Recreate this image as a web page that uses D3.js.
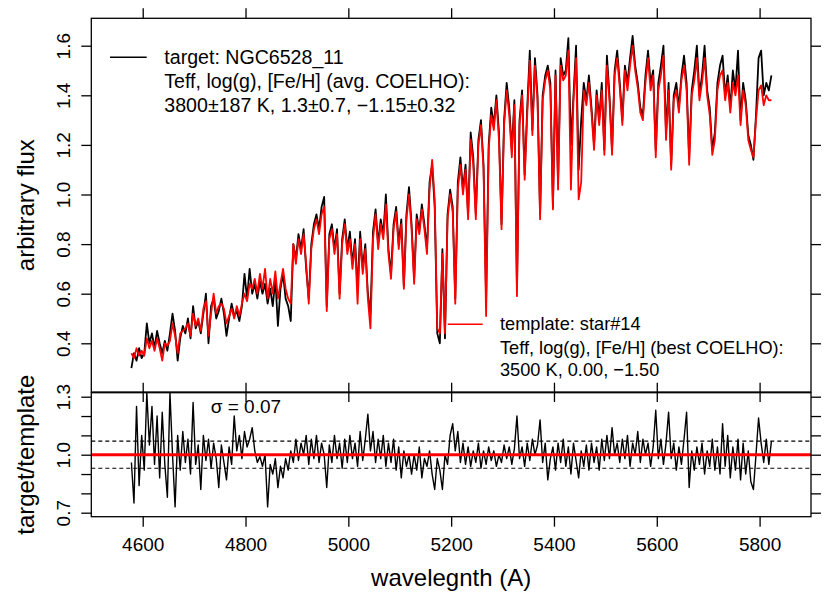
<!DOCTYPE html>
<html>
<head>
<meta charset="utf-8">
<script src="https://cdn.jsdelivr.net/npm/d3@7"></script>
<style>
  body { margin: 0; background: #fff; }
  svg { display: block; font-family: "Liberation Sans", Arial, sans-serif; }
</style>
</head>
<body>
<div id="chart"></div>
<script>
// spectra are sampled every 5 A, starting at 4578 A
const waveStart = 4578;
const waveStep = 5;

const targetFlux = [
  0.30, 0.36, 0.33, 0.38, 0.34, 0.36, 0.48, 0.40, 0.44, 0.38,
  0.45, 0.40, 0.36, 0.41, 0.37, 0.44, 0.52, 0.45, 0.33, 0.42,
  0.47, 0.44, 0.50, 0.42, 0.55, 0.46, 0.49, 0.44, 0.52, 0.60,
  0.40, 0.55, 0.58, 0.50, 0.53, 0.58, 0.52, 0.43, 0.50, 0.56,
  0.51, 0.53, 0.49, 0.55, 0.68, 0.58, 0.70, 0.60, 0.64, 0.58,
  0.65, 0.60, 0.64, 0.56, 0.62, 0.55, 0.66, 0.47, 0.62, 0.68,
  0.58, 0.55, 0.49, 0.80, 0.74, 0.84, 0.78, 0.86, 0.70, 0.58,
  0.80, 0.88, 0.92, 0.86, 0.95, 0.99, 0.55, 0.84, 0.88, 0.78,
  0.86, 0.60, 0.82, 0.90, 0.78, 0.85, 0.72, 0.82, 0.62, 0.85,
  0.70, 0.80, 0.60, 0.52, 0.85, 0.94, 0.80, 0.90, 0.84, 1.00,
  0.78, 0.68, 0.88, 0.95, 0.80, 0.90, 0.63, 0.92, 1.03, 0.88,
  0.66, 0.92, 0.85, 0.96, 0.88, 0.78, 1.05, 1.12, 0.95, 0.44,
  0.40, 0.78, 0.42, 0.92, 1.02, 0.95, 0.58, 1.05, 1.15, 1.02,
  1.12, 0.92, 1.25, 1.15, 0.92, 1.22, 1.30, 1.12, 0.58, 1.20,
  1.35, 1.28, 1.40, 1.25, 0.88, 1.30, 1.45, 1.35, 1.18, 1.38,
  0.62, 1.30, 1.42, 1.08, 1.35, 1.58, 1.26, 1.55, 1.40, 0.92,
  1.40, 1.48, 1.52, 1.45, 0.95, 1.50, 1.05, 1.55, 1.48, 1.50,
  1.63, 1.20, 1.40, 1.60, 1.10, 1.30, 1.45, 1.38, 1.48, 1.35,
  1.20, 1.42, 1.30, 1.45, 1.18, 1.56, 1.40, 1.18, 1.50, 1.58,
  1.45, 1.30, 1.52, 1.45, 1.55, 1.64, 1.52, 1.45, 1.35, 1.32,
  1.48, 1.58, 1.45, 1.50, 1.18, 1.45, 1.52, 1.60, 1.25, 1.45,
  1.12, 1.40, 1.45, 1.35, 1.48, 1.56, 1.45, 1.15, 1.42, 1.50,
  1.60, 1.40, 1.48, 1.60, 1.42, 1.35, 1.18, 1.25, 1.45, 1.52,
  1.56, 1.40, 1.48, 1.35, 1.50, 1.42, 1.58, 1.30, 1.45, 1.38,
  1.24, 1.20, 1.14, 1.32, 1.55, 1.58, 1.40, 1.45, 1.42, 1.48
];

const templateFlux = [
  0.36, 0.34, 0.38, 0.35, 0.37, 0.35, 0.42, 0.38, 0.41, 0.37,
  0.42, 0.38, 0.33, 0.40, 0.39, 0.41, 0.48, 0.43, 0.36, 0.44,
  0.45, 0.46, 0.48, 0.43, 0.52, 0.47, 0.50, 0.45, 0.54, 0.57,
  0.43, 0.52, 0.60, 0.52, 0.55, 0.56, 0.54, 0.48, 0.51, 0.54,
  0.50, 0.55, 0.51, 0.56, 0.60, 0.57, 0.64, 0.62, 0.66, 0.60,
  0.68, 0.62, 0.70, 0.58, 0.66, 0.60, 0.69, 0.58, 0.64, 0.70,
  0.62, 0.58, 0.56, 0.80, 0.72, 0.82, 0.76, 0.84, 0.72, 0.56,
  0.78, 0.86, 0.90, 0.84, 0.92, 0.95, 0.53, 0.82, 0.86, 0.76,
  0.84, 0.58, 0.80, 0.88, 0.76, 0.82, 0.70, 0.80, 0.56, 0.82,
  0.68, 0.78, 0.58, 0.46, 0.82, 0.92, 0.78, 0.88, 0.82, 0.96,
  0.76, 0.66, 0.86, 0.93, 0.78, 0.88, 0.62, 0.90, 1.00, 0.86,
  0.64, 0.90, 0.84, 0.94, 0.86, 0.76, 1.02, 1.14, 0.98, 0.46,
  0.44, 0.76, 0.44, 0.90, 1.00, 0.93, 0.56, 1.02, 1.12, 1.00,
  1.10, 0.90, 1.22, 1.12, 0.90, 1.20, 1.28, 1.10, 0.51, 1.18,
  1.32, 1.26, 1.38, 1.22, 0.86, 1.28, 1.42, 1.32, 1.15, 1.36,
  0.59, 1.28, 1.40, 1.06, 1.32, 1.54, 1.24, 1.52, 1.38, 0.90,
  1.38, 1.46, 1.50, 1.42, 0.94, 1.48, 1.02, 1.52, 1.46, 1.48,
  1.58, 1.02, 1.38, 1.55, 0.98, 1.05, 1.42, 1.36, 1.45, 1.33,
  1.18, 1.40, 1.28, 1.42, 1.16, 1.52, 1.38, 1.16, 1.48, 1.55,
  1.43, 1.28, 1.50, 1.42, 1.52, 1.60, 1.50, 1.43, 1.33, 1.30,
  1.45, 1.55, 1.42, 1.48, 1.15, 1.42, 1.48, 1.56, 1.22, 1.42,
  1.10, 1.38, 1.42, 1.33, 1.46, 1.52, 1.42, 1.12, 1.40, 1.46,
  1.55, 1.38, 1.45, 1.55, 1.40, 1.32, 1.16, 1.22, 1.42, 1.48,
  1.50, 1.38, 1.45, 1.33, 1.45, 1.40, 1.48, 1.28, 1.42, 1.36,
  1.22, 1.18, 1.15, 1.30, 1.42, 1.44, 1.36, 1.40, 1.38, 1.38
];

// target/template
const ratio = [
  0.96, 0.75, 1.25, 0.84, 1.10, 0.92, 1.32, 1.05, 1.25, 0.95,
  1.20, 0.88, 1.22, 0.95, 0.78, 1.32, 1.00, 0.73, 1.10, 0.92,
  1.12, 0.96, 1.08, 0.90, 1.27, 0.95, 1.05, 0.82, 1.10, 0.97,
  1.08, 0.93, 1.06, 0.98, 0.83, 1.05, 0.96, 0.87, 1.04, 0.95,
  1.20, 1.02, 1.10, 0.98, 1.12, 1.04, 1.08, 1.14, 1.02, 0.96,
  0.99, 0.94, 1.00, 0.73, 0.95, 0.90, 0.98, 0.83, 0.94, 0.88,
  0.98, 0.92, 1.02, 0.96, 1.08, 0.97, 1.06, 1.00, 1.10, 0.95,
  1.08, 0.98, 1.10, 0.96, 1.06, 1.00, 0.83, 1.05, 0.96, 1.10,
  0.98, 1.06, 0.93, 1.08, 0.96, 1.10, 0.98, 1.06, 0.94, 1.12,
  0.97, 1.08, 1.21, 1.02, 1.12, 0.96, 1.08, 0.98, 1.10, 0.94,
  1.06, 0.96, 1.08, 0.92, 1.04, 0.88, 1.02, 0.94, 1.00, 0.90,
  1.00, 0.92, 1.04, 0.88, 0.98, 0.94, 1.02, 0.90, 0.82, 0.98,
  0.92, 0.82, 1.00, 0.95, 1.10, 1.16, 1.02, 1.12, 0.96, 1.06,
  0.95, 1.04, 0.94, 1.02, 0.96, 1.06, 0.93, 1.02, 0.95, 1.04,
  0.97, 1.02, 0.94, 1.00, 0.96, 1.05, 0.98, 1.04, 0.95, 1.03,
  1.20, 0.98, 1.04, 0.94, 1.06, 0.97, 1.08, 1.00, 1.05, 1.18,
  0.96, 1.06, 0.87, 0.98, 1.04, 0.92, 1.06, 0.96, 1.08, 0.94,
  1.04, 0.90, 1.06, 0.97, 0.88, 1.02, 0.94, 1.05, 0.92, 1.06,
  0.96, 1.04, 0.92, 1.08, 0.97, 1.10, 0.98, 1.14, 1.00, 1.06,
  0.96, 1.08, 0.98, 1.10, 0.94, 1.06, 1.00, 1.12, 0.96, 1.08,
  1.00, 1.06, 0.94, 1.04, 1.23, 0.98, 1.08, 0.95, 1.06, 1.22,
  0.98, 1.06, 0.92, 1.04, 0.95, 1.08, 1.22, 0.83, 1.02, 0.92,
  1.04, 0.95, 1.06, 0.90, 1.02, 0.94, 1.08, 0.92, 1.04, 0.90,
  1.16, 0.94, 1.10, 0.88, 1.04, 0.92, 1.08, 0.87, 1.06, 0.90,
  1.02, 0.86, 0.82, 1.00, 1.19, 1.06, 0.96, 1.08, 0.95, 1.07
];

const waveTicks = [4600, 4800, 5000, 5200, 5400, 5600, 5800];
const fluxTicks = [0.4, 0.6, 0.8, 1.0, 1.2, 1.4, 1.6];
const ratioTicks = [0.7, 0.8, 0.9, 1.0, 1.1, 1.2, 1.3];
const ratioLabels = [0.7, 1.0, 1.3];
const sigma = 0.07;

const targetLegend = ["target: NGC6528_11", "Teff, log(g), [Fe/H] (avg. COELHO):", "3800\u00b1187 K, 1.3\u00b10.7, \u22121.15\u00b10.32"];
const templateLegend = ["template: star#14", "Teff, log(g), [Fe/H] (best COELHO):", "3500 K, 0.00, \u22121.50"];

const width = 830;
const height = 609;
const left = 91.3, right = 811;
const topPanel = { top: 18.3, bottom: 392 };
const lowPanel = { top: 392.7, bottom: 516.7 };

const spectrum = targetFlux.map((f, i) => ({
  wave: waveStart + i * waveStep,
  target: f,
  template: templateFlux[i],
  ratio: ratio[i],
}));

const svg = d3.select("#chart")
  .append("svg")
  .attr("width", width)
  .attr("height", height);

const xScale = d3.scaleLinear().domain([4500, 5900]).range([left, right]);
const yFlux = d3.scaleLinear().domain([0.2036, 1.7105]).range([topPanel.bottom, topPanel.top]);
const yRatio = d3.scaleLinear().domain([0.6793, 1.3207]).range([lowPanel.bottom, lowPanel.top]);

// clip paths so lines stay inside the boxes
const defs = svg.append("defs");
defs.append("clipPath").attr("id", "clip-top")
  .append("rect").attr("x", left).attr("y", topPanel.top)
  .attr("width", right - left).attr("height", topPanel.bottom - topPanel.top);
defs.append("clipPath").attr("id", "clip-low")
  .append("rect").attr("x", left).attr("y", lowPanel.top)
  .attr("width", right - left).attr("height", lowPanel.bottom - lowPanel.top);

// ---- top panel: spectra
const fluxG = svg.append("g").attr("clip-path", "url(#clip-top)");

const targetLine = d3.line().x(d => xScale(d.wave)).y(d => yFlux(d.target));
const templateLine = d3.line().x(d => xScale(d.wave)).y(d => yFlux(d.template));

fluxG.append("path")
  .datum(spectrum)
  .attr("d", targetLine)
  .attr("fill", "none")
  .attr("stroke", "#000")
  .attr("stroke-width", 1.8)
  .attr("stroke-linejoin", "round");

fluxG.append("path")
  .datum(spectrum)
  .attr("d", templateLine)
  .attr("fill", "none")
  .attr("stroke", "#ff0000")
  .attr("stroke-width", 1.8)
  .attr("stroke-linejoin", "round");

// ---- lower panel: ratio
const ratioG = svg.append("g").attr("clip-path", "url(#clip-low)");

[1 + sigma, 1 - sigma].forEach(v => {
  ratioG.append("line")
    .attr("x1", left).attr("x2", right)
    .attr("y1", yRatio(v)).attr("y2", yRatio(v))
    .attr("stroke", "#000")
    .attr("stroke-width", 1.2)
    .attr("stroke-dasharray", "4,3");
});

ratioG.append("path")
  .datum(spectrum)
  .attr("d", d3.line().x(d => xScale(d.wave)).y(d => yRatio(d.ratio)))
  .attr("fill", "none")
  .attr("stroke", "#000")
  .attr("stroke-width", 1.4)
  .attr("stroke-linejoin", "round");

ratioG.append("line")
  .attr("x1", left).attr("x2", right)
  .attr("y1", yRatio(1)).attr("y2", yRatio(1))
  .attr("stroke", "#ff0000")
  .attr("stroke-width", 3);

// ---- boxes
[topPanel, lowPanel].forEach(p => {
  svg.append("rect")
    .attr("x", left).attr("y", p.top)
    .attr("width", right - left).attr("height", p.bottom - p.top)
    .attr("fill", "none")
    .attr("stroke", "#000")
    .attr("stroke-width", 1.3);
});

// ---- axes
function styleAxis(g) {
  g.select(".domain").remove();
  g.selectAll(".tick line").attr("stroke", "#000").attr("stroke-width", 1.3);
  g.selectAll(".tick text").attr("fill", "#000").style("font-size", "19px");
}

svg.append("g")
  .attr("transform", `translate(0,${topPanel.top})`)
  .call(d3.axisTop(xScale).tickValues(waveTicks).tickSize(10).tickFormat(""))
  .call(styleAxis);

svg.append("g")
  .attr("transform", `translate(0,${topPanel.bottom})`)
  .call(d3.axisBottom(xScale).tickValues(waveTicks).tickSize(10).tickFormat(""))
  .call(styleAxis);

svg.append("g")
  .attr("transform", `translate(0,${lowPanel.top})`)
  .call(d3.axisTop(xScale).tickValues(waveTicks).tickSize(10).tickFormat(""))
  .call(styleAxis);

svg.append("g")
  .attr("transform", `translate(0,${lowPanel.bottom})`)
  .call(d3.axisBottom(xScale).tickValues(waveTicks).tickSize(10).tickPadding(10.5).tickFormat(d3.format("d")))
  .call(styleAxis);

function rotateLabels(g) {
  g.selectAll(".tick text")
    .attr("transform", "rotate(-90)")
    .attr("x", 0)
    .attr("y", -(left - 70))
    .attr("dy", 0)
    .attr("text-anchor", "middle");
}

svg.append("g")
  .attr("transform", `translate(${left},0)`)
  .call(d3.axisLeft(yFlux).tickValues(fluxTicks).tickSize(10).tickFormat(d3.format(".1f")))
  .call(styleAxis)
  .call(rotateLabels);

svg.append("g")
  .attr("transform", `translate(${right},0)`)
  .call(d3.axisRight(yFlux).tickValues(fluxTicks).tickSize(10).tickFormat(""))
  .call(styleAxis);

svg.append("g")
  .attr("transform", `translate(${left},0)`)
  .call(d3.axisLeft(yRatio).tickValues(ratioTicks).tickSize(10)
    .tickFormat(d => ratioLabels.includes(d) ? d3.format(".1f")(d) : ""))
  .call(styleAxis)
  .call(rotateLabels);

svg.append("g")
  .attr("transform", `translate(${right},0)`)
  .call(d3.axisRight(yRatio).tickValues(ratioTicks).tickSize(10).tickFormat(""))
  .call(styleAxis);

// ---- axis titles
svg.append("text")
  .attr("x", (left + right) / 2)
  .attr("y", 586)
  .attr("text-anchor", "middle")
  .style("font-size", "24px")
  .text("wavelegnth (A)");

svg.append("text")
  .attr("transform", `translate(33.5,${(topPanel.top + topPanel.bottom) / 2}) rotate(-90)`)
  .attr("text-anchor", "middle")
  .style("font-size", "24px")
  .text("arbitrary flux");

svg.append("text")
  .attr("transform", `translate(33.5,${(lowPanel.top + lowPanel.bottom) / 2}) rotate(-90)`)
  .attr("text-anchor", "middle")
  .style("font-size", "24px")
  .text("target/template");

// ---- legends
function legend(lines, colour, segX, segY, textX, baselines, size) {
  svg.append("line")
    .attr("x1", segX[0]).attr("x2", segX[1])
    .attr("y1", segY).attr("y2", segY)
    .attr("stroke", colour)
    .attr("stroke-width", 1.4);
  svg.selectAll(null)
    .data(lines)
    .join("text")
    .attr("x", textX)
    .attr("y", (d, i) => baselines[i])
    .style("font-size", size + "px")
    .text(d => d);
}

legend(targetLegend, "#000", [110, 146.7], 57.3, 164.3, [64.3, 88, 111.7], 19.6);
legend(templateLegend, "#ff0000", [447.7, 482.7], 324.3, 500, [330.3, 354, 376], 18.2);

svg.append("text")
  .attr("x", 210.7)
  .attr("y", 413.3)
  .style("font-size", "19px")
  .text(`\u03c3 = ${sigma.toFixed(2)}`);
</script>
</body>
</html>
